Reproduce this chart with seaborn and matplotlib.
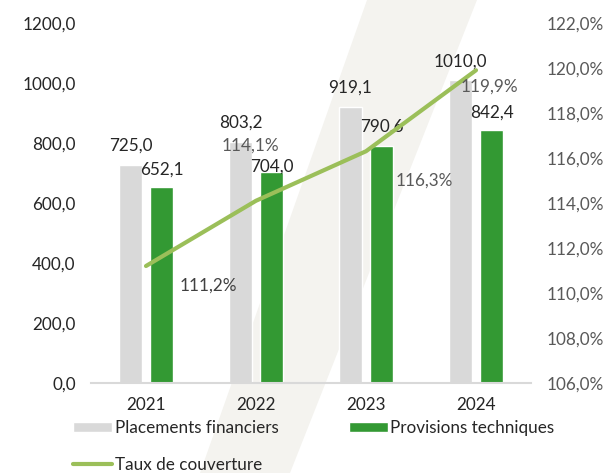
import matplotlib
matplotlib.use("Agg")
import matplotlib.pyplot as plt
from matplotlib.patches import Polygon
import pandas as pd
import seaborn as sns

# chart data
years = ["2021", "2022", "2023", "2024"]
placements = [725.0, 803.2, 919.1, 1010.0]
provisions = [652.1, 704.0, 790.6, 842.4]
taux = [111.2, 114.1, 116.3, 119.9]
left_ticks = [0, 200, 400, 600, 800, 1000, 1200]
right_ticks = [106, 108, 110, 112, 114, 116, 118, 120, 122]
series_names = ["Placements financiers", "Provisions techniques", "Taux de couverture"]


def fr(v, suffix=""):
    # French decimal comma
    return f"{v:.1f}".replace(".", ",") + suffix


sns.set_style("white")
plt.rcParams["font.family"] = ["Lato", "DejaVu Sans"]
FS = 12.3

df = pd.DataFrame({
    "annee": years * 2,
    "valeur": placements + provisions,
    "serie": [series_names[0]] * 4 + [series_names[1]] * 4,
})

W, H = 606, 473
fig = plt.figure(figsize=(W / 100, H / 100), dpi=100)

# faint diagonal watermark band in the background
band = Polygon([(367 / W, 1), (477 / W, 1), (290 / W, 0), (200 / W, 0)],
               closed=True, transform=fig.transFigure,
               facecolor="#F4F3EF", edgecolor="none", zorder=-1)
fig.patches.append(band)

ax = fig.add_axes([91 / W, 1 - 383 / H, 440 / W, 360 / H])
ax.set_facecolor("none")

sns.barplot(data=df, x="annee", y="valeur", hue="serie",
            palette=["#D9D9D9", "#339933"], saturation=1,
            width=0.564, gap=0.227, errorbar=None, legend=False, ax=ax)

ax2 = ax.twinx()
sns.lineplot(x=list(range(len(years))), y=taux, ax=ax2, color="#9BBF59",
             linewidth=3, solid_capstyle="round")

ax.set_xlim(-0.5, 3.5)
ax.set_ylim(0, 1200)
ax2.set_ylim(106, 122)

ax.set_yticks(left_ticks)
ax.set_yticklabels([fr(v) for v in left_ticks])
ax2.set_yticks(right_ticks)
ax2.set_yticklabels([fr(v, "%") for v in right_ticks])
ax.set_xlabel("")
ax.set_ylabel("")
ax2.set_ylabel("")

ax.tick_params(axis="y", length=0, pad=11, labelsize=FS, labelcolor="#262626")
ax.tick_params(axis="x", length=0, pad=10, labelsize=FS, labelcolor="#262626")
ax2.tick_params(axis="y", length=0, pad=11, labelsize=FS, labelcolor="#595959")

for a in (ax, ax2):
    for s in ("left", "right", "top"):
        a.spines[s].set_visible(False)
ax2.spines["bottom"].set_visible(False)
ax.spines["bottom"].set_color("#D9D9D9")
ax.spines["bottom"].set_linewidth(1.5)

# value labels on bars
bar_offsets = [[14, 14, 14, 13], [13, 3.6, 14, 13]]
for container, offs in zip(ax.containers, bar_offsets):
    for rect, dy in zip(container, offs):
        ax.annotate(fr(rect.get_height()),
                    (rect.get_x() + rect.get_width() / 2, rect.get_height()),
                    xytext=(0, dy), textcoords="offset points",
                    ha="center", va="center", fontsize=FS, color="#262626")

# labels on the coverage line
line_offsets = [(45, -14), (-4, 40), (42, -21), (10, -12)]
line_colors = ["#404040", "#595959", "#595959", "#595959"]
for i, (v, off, c) in enumerate(zip(taux, line_offsets, line_colors)):
    ax2.annotate(fr(v, "%"), (i, v), xytext=off, textcoords="offset points",
                 ha="center", va="center", fontsize=FS, color=c)

fig.legend(handles=[ax.containers[0], ax2.lines[0], ax.containers[1]],
           labels=[series_names[0], series_names[2], series_names[1]],
           ncol=2, loc="upper left", bbox_to_anchor=(73 / W, 1 - 420 / H),
           frameon=False, fontsize=FS, handlelength=2.3, handleheight=0.55,
           handletextpad=0.15, columnspacing=4.1, labelspacing=1.2,
           borderpad=0, borderaxespad=0, labelcolor="#262626")

fig.savefig("out.png", dpi=100)
